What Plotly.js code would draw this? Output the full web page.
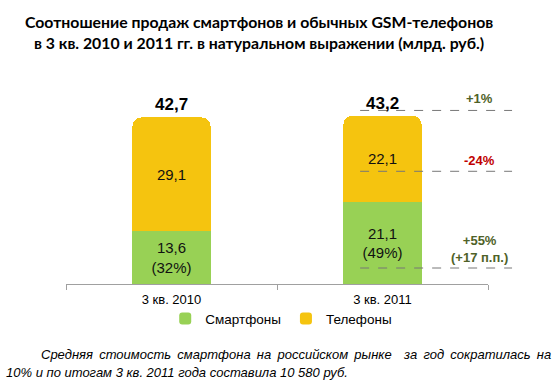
<!DOCTYPE html>
<html>
<head>
<meta charset="utf-8">
<script src="https://cdn.plot.ly/plotly-3.0.1.min.js"></script>
<style>html,body{margin:0;padding:0;background:#fff;}#chart{width:560px;height:391px;}</style>
</head>
<body>
<div id="chart"></div>
<script>
const categories = ["3 кв. 2010", "3 кв. 2011"];
const smartphones = [13.6, 21.1];
const smartShare = [32, 49];
const phones = [29.1, 22.1];
const totals = [42.7, 43.2];
const changeLabels = ["+1%", "-24%", "+55%<br>(+17 п.п.)"];
const seriesNames = ["Смартфоны", "Телефоны"];

const fmt = v => v.toFixed(1).replace('.', ',');
const ARIAL = "Liberation Sans, Arial, sans-serif";

const traces = [
  {
    type: 'bar', name: seriesNames[0], x: categories, y: smartphones,
    text: smartphones.map((v, i) => fmt(v) + '<br>(' + smartShare[i] + '%)'),
    textposition: 'inside', insidetextanchor: 'middle', texttemplate: '%{text}',
    textfont: {family: ARIAL, size: 15, color: '#111'},
    marker: {color: '#98d155', line: {width: 0}}, width: 0.37, hoverinfo: 'none'
  },
  {
    type: 'bar', name: seriesNames[1], x: categories, y: phones,
    text: phones.map(fmt),
    textposition: 'inside', insidetextanchor: 'middle', texttemplate: '%{text}',
    textfont: {family: ARIAL, size: 15, color: '#111'},
    marker: {color: '#f5c40f', line: {width: 0}}, width: 0.37, hoverinfo: 'none'
  }
];

const annotations = [];
annotations.push({
  x: 0.457, y: 1.294, xref: 'paper', yref: 'paper', xanchor: 'center', yanchor: 'middle',
  text: '<b>Соотношение продаж смартфонов и обычных GSM-телефонов<br>в 3 кв. 2010 и 2011 гг. в натуральном выражении (млрд. руб.)</b>',
  showarrow: false, font: {family: 'Lato, Open Sans, sans-serif', size: 15.8, color: '#000'}
});
categories.forEach((c, i) => {
  annotations.push({
    x: c, y: totals[i], xref: 'x', yref: 'y', yanchor: 'bottom', yshift: 1,
    text: '<b>' + fmt(totals[i]) + '</b>', showarrow: false,
    font: {family: ARIAL, size: 17, color: '#000'}
  });
});
const changeColors = ['#4f6228', '#c00000', '#4f6228'];
const changeY = [0.951, 0.634, 0.18];
changeLabels.forEach((t, i) => {
  annotations.push({
    x: 0.981, y: changeY[i], xref: 'paper', yref: 'paper', xanchor: 'center', yanchor: 'middle',
    text: '<b>' + t + '</b>', showarrow: false,
    font: {family: ARIAL, size: 13, color: changeColors[i]}
  });
});
const line1 = 'Средняя стоимость смартфона на российском рынке  за год сократилась на'.replace(/ /g, ' \u2009');
annotations.push({
  x: 1.153, y: -0.363, xref: 'paper', yref: 'paper', xanchor: 'right', yanchor: 'middle',
  text: '<i>' + line1 + '</i>',
  showarrow: false, font: {family: ARIAL, size: 13, color: '#000'}
});
annotations.push({
  x: -0.148, y: -0.455, xref: 'paper', yref: 'paper', xanchor: 'left', yanchor: 'middle',
  text: '<i>10% и по итогам 3 кв. 2011 года составила 10 580 руб.</i>',
  showarrow: false, font: {family: ARIAL, size: 13, color: '#000'}
});

const dashY = [44.5, 28.9, 4.1];
const shapes = dashY.map(y => ({
  type: 'line', xref: 'paper', yref: 'y', x0: 0.697, x1: 1.057, y0: y, y1: y,
  line: {color: '#777', width: 1, dash: 'dash'}
}));

const layout = {
  width: 560, height: 391,
  margin: {l: 65.5, r: 72, t: 88.5, b: 107},
  paper_bgcolor: '#fff', plot_bgcolor: '#fff',
  barmode: 'stack', barcornerradius: 9,
  showlegend: true,
  xaxis: {
    type: 'category', range: [-0.5, 1.5], showline: true, linecolor: '#a0a0a0', linewidth: 1,
    ticks: 'outside', tickson: 'boundaries', ticklen: 5, tickcolor: '#a0a0a0', ticklabelstandoff: 3,
    tickfont: {family: ARIAL, size: 13, color: '#000'}, showgrid: false, zeroline: false, fixedrange: true
  },
  yaxis: {range: [0, 50], visible: false, showgrid: false, zeroline: false, fixedrange: true},
  legend: {
    orientation: 'h', x: 0.51, xanchor: 'center', y: -0.178, yanchor: 'middle',
    bgcolor: 'rgba(0,0,0,0)',
    font: {family: ARIAL, size: 13.5, color: '#000'}, itemwidth: 30, traceorder: 'normal'
  },
  annotations: annotations,
  shapes: shapes
};

Plotly.newPlot('chart', traces, layout, {displayModeBar: false, staticPlot: true});
</script>
</body>
</html>
